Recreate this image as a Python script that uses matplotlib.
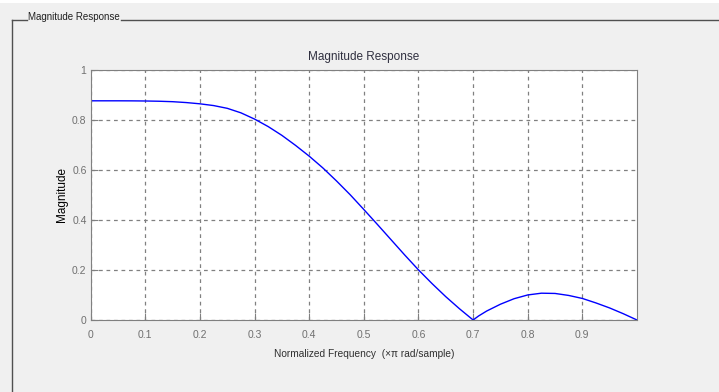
import matplotlib
matplotlib.use("Agg")
import matplotlib.pyplot as plt
from matplotlib.lines import Line2D
from matplotlib.patches import Rectangle

## 读图得到的幅频响应数据
freq = [0.0, 0.025, 0.05, 0.075, 0.1, 0.125, 0.15, 0.175, 0.2, 0.225, 0.25,
        0.275, 0.3, 0.325, 0.35, 0.375, 0.4, 0.425, 0.45, 0.475, 0.5,
        0.525, 0.55, 0.575, 0.6, 0.625, 0.65, 0.675, 0.7, 0.71, 0.725,
        0.75, 0.775, 0.8, 0.825, 0.85, 0.875, 0.9, 0.925, 0.95, 0.975, 1.0]
mag = [0.875, 0.875, 0.875, 0.8748, 0.8743, 0.8733, 0.8715, 0.868, 0.863, 0.856, 0.845,
       0.827, 0.802, 0.772, 0.737, 0.697, 0.654, 0.607, 0.555, 0.500, 0.441,
       0.381, 0.320, 0.259, 0.200, 0.145, 0.093, 0.045, 0.0, 0.016, 0.036,
       0.063, 0.085, 0.100, 0.107, 0.106, 0.098, 0.086, 0.068, 0.048, 0.025, 0.0]
xticks = [0, 0.1, 0.2, 0.3, 0.4, 0.5, 0.6, 0.7, 0.8, 0.9]
xtick_labels = ["0", "0.1", "0.2", "0.3", "0.4", "0.5", "0.6", "0.7", "0.8", "0.9"]
yticks = [0, 0.2, 0.4, 0.6, 0.8, 1]
ytick_labels = ["0", "0.2", "0.4", "0.6", "0.8", "1"]

W, H = 719, 392
plt.rcParams["font.family"] = ["Liberation Sans", "DejaVu Sans"]

fig = plt.figure(figsize=(W / 100, H / 100), dpi=100, facecolor="#f0f0f0")

## 顶部白条
fig.patches.append(Rectangle((0, 1 - 3 / H), 1, 3 / H, transform=fig.transFigure,
                             facecolor="white", edgecolor="none"))
## 分组框
ly = 1 - 20 / H
gt = fig.text(28 / W, ly, "Magnitude Response", fontsize=7, color="#202020",
              ha="left", va="baseline")
fig.canvas.draw()
bb = gt.get_window_extent()
fig.add_artist(Line2D([12 / W, 27 / W], [ly, ly], color="#505050", lw=1))
fig.add_artist(Line2D([(bb.x1 + 1) / W, 1], [ly, ly], color="#505050", lw=1))
fig.add_artist(Line2D([12 / W, 12 / W], [0, ly], color="#505050", lw=1))

ax = fig.add_axes([90.7 / W, 1 - 320 / H, (637 - 90.7) / W, (320 - 69.5) / H])
ax.set_facecolor("white")
ax.plot(freq, mag, color="#0000ff", lw=1)
ax.set_xlim(0, 1)
ax.set_ylim(0, 1)
ax.set_xticks(xticks)
ax.set_xticklabels(xtick_labels)
ax.set_yticks(yticks)
ax.set_yticklabels(ytick_labels)
ax.grid(True, color="#808080", linestyle=(0, (3, 3)), lw=0.9)
ax.tick_params(direction="in", length=5, color="#808080", labelcolor="#707070",
               labelsize=7.5)
ax.tick_params(axis="x", pad=7)
ax.tick_params(axis="y", pad=3)
for s in ax.spines.values():
    s.set_color("#808080")
ax.set_title("Magnitude Response", fontsize=8.5, color="#303040", pad=7)
ax.set_xlabel("Normalized Frequency  (\u00d7\u03c0 rad/sample)", fontsize=7.3,
              color="#303030", labelpad=7)
ax.set_ylabel("Magnitude", fontsize=8.5, color="#000000", labelpad=3)

fig.savefig("out.png", dpi=100, facecolor=fig.get_facecolor())
